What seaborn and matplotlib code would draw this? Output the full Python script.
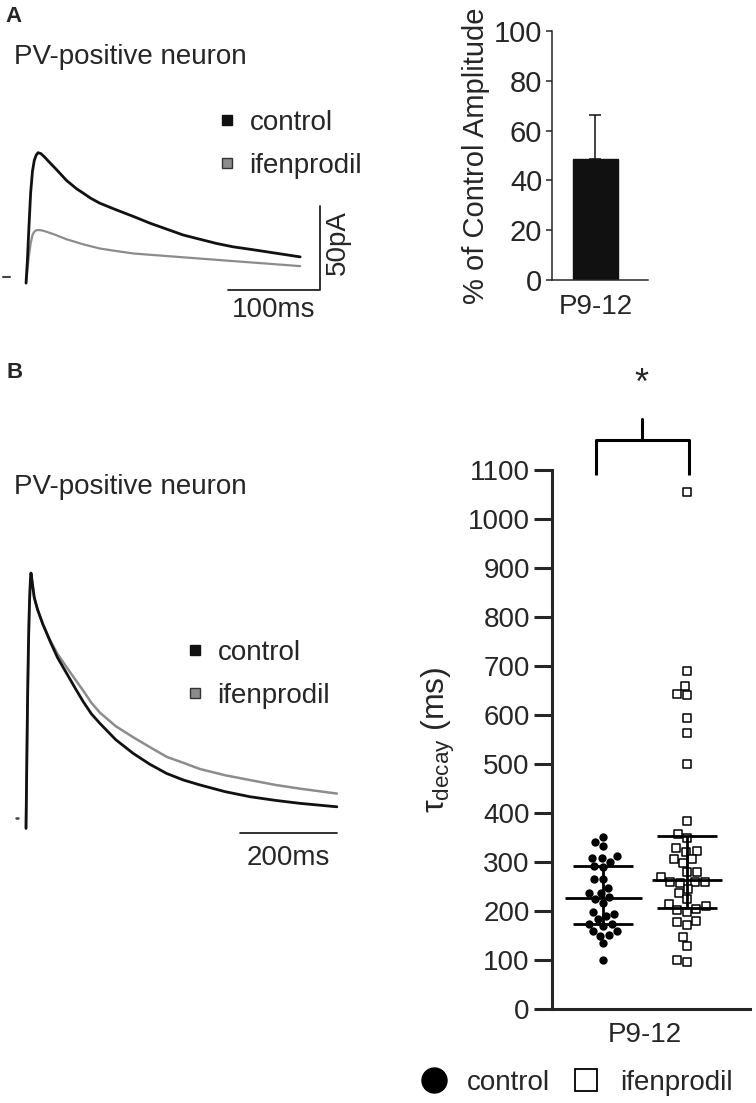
import numpy as np
import pandas as pd
import seaborn as sns
import matplotlib.pyplot as plt
from matplotlib.lines import Line2D

# ---- data ----
# panel A: example EPSC traces (time in ms, current in pA)
a_ctrl_t = [0, 1.5, 3, 5, 7, 9, 11, 13, 16, 20, 26, 33, 44, 55, 62, 70, 80, 98, 117, 135,
            153, 171, 189, 207, 225, 244, 262, 280, 298]
a_ctrl_i = [-3.6, 10, 28, 50, 63, 69.5, 72.5, 74, 73.5, 71.5, 68, 64, 57.5, 52.5, 50, 47, 44,
            40, 36, 32, 28.5, 25, 22.5, 20, 18, 16.5, 15, 13.5, 12]
a_ifen_t = [0, 1.5, 3, 5, 7, 9, 11, 13, 17, 22, 30, 44, 62, 80, 98, 117, 153, 189, 225, 262, 298]
a_ifen_i = [-3.6, 4, 12, 20, 25, 27, 27.8, 28, 27.8, 27, 25.5, 22.5, 19.5, 17, 15.5, 14, 12.5,
            11, 9.5, 8, 6.5]
a_base_t = [-25, -17]
a_base_i = [0, 0]

# panel A: bar (% of control amplitude)
bar_group = ['P9-12']
bar_value = [48.6]
bar_err = [17.7]

# panel B: normalized traces (time in ms, normalized amplitude)
b_ctrl_t = [0, 1.5, 3, 5, 7, 9, 10.3, 13, 17, 24, 35, 50, 65, 84, 100, 118, 135, 152.6, 185,
            221, 255, 290, 325, 359, 410, 462, 515, 565, 641]
b_ctrl_a = [-0.042, 0.2, 0.45, 0.7, 0.87, 0.97, 1.0, 0.96, 0.9, 0.85, 0.79, 0.72, 0.655, 0.59,
            0.535, 0.475, 0.425, 0.386, 0.32, 0.264, 0.22, 0.182, 0.155, 0.135, 0.108, 0.087,
            0.072, 0.06, 0.046]
b_ifen_t = [0, 1.5, 3, 5, 7, 9, 10.3, 13, 17, 24, 35, 50, 65, 84, 100, 118, 135, 152.6, 185,
            221, 255, 290, 325, 359, 410, 462, 515, 565, 641]
b_ifen_a = [-0.042, 0.2, 0.45, 0.7, 0.87, 0.97, 1.0, 0.96, 0.9, 0.85, 0.79, 0.725, 0.67, 0.615,
            0.57, 0.52, 0.47, 0.43, 0.375, 0.33, 0.29, 0.25, 0.225, 0.2, 0.175, 0.155, 0.135,
            0.12, 0.1]
b_base_t = [-21, -16]
b_base_a = [0, 0]

# panel B: tau decay (ms) per cell
control_tau = [352, 341, 333, 312, 308, 308, 301, 292, 290, 266, 266, 247, 236, 236, 229,
               224, 217, 197, 193, 190, 183, 174, 170, 174, 160, 159, 152, 150, 134, 100]
ifen_tau = [1056, 690, 659, 643, 640, 593, 563, 501, 383, 357, 348, 328, 323, 321, 306, 306,
            297, 279, 279, 269, 259, 259, 257, 259, 245, 236, 224, 214, 210, 205, 203, 197,
            179, 177, 172, 147, 129, 100, 95]
groups = ['control', 'ifenprodil']
medians = [226, 264]
quart_lo = [174, 206]
quart_hi = [292, 354]

# ---- figure ----
sns.set_style('ticks')
plt.rcParams['font.family'] = ['Liberation Sans', 'DejaVu Sans']
plt.rcParams['mathtext.fontset'] = 'custom'
plt.rcParams['mathtext.rm'] = 'Liberation Sans'
plt.rcParams['mathtext.it'] = 'Liberation Sans:italic'

W, H = 756, 1103
fig = plt.figure(figsize=(W / 100, H / 100), dpi=100)
FS = 20


def px_axes(x0, y0, x1, y1):
    return fig.add_axes([x0 / W, 1 - y1 / H, (x1 - x0) / W, (y1 - y0) / H])


ctrl_col = '#111111'
ifen_col = '#8c8c8c'

# ---- A: traces ----
ax = px_axes(0, 120, 380, 330)
sns.lineplot(x=a_base_t, y=a_base_i, color='#444444', lw=1.5, ax=ax, estimator=None, sort=False)
sns.lineplot(x=a_ifen_t, y=a_ifen_i, color=ifen_col, lw=1.6, ax=ax, estimator=None, sort=False)
sns.lineplot(x=a_ctrl_t, y=a_ctrl_i, color=ctrl_col, lw=2.0, ax=ax, estimator=None, sort=False)
ax.plot([219.6, 319.6, 319.6], [-7.7, -7.7, 42.3], color='#222222', lw=1.3)
ax.text(269.6, -19.6, '100ms', ha='center', va='center', fontsize=FS)
ax.text(339, 20.8, '50pA', ha='center', va='center', rotation=90, fontsize=FS)
ax.set_xlim(-28.3, 384.8)
ax.set_ylim(-31.5, 93.45)
ax.axis('off')

handles = [Line2D([], [], marker='s', ls='none', mfc=ctrl_col, mec=ctrl_col, ms=6.5),
           Line2D([], [], marker='s', ls='none', mfc=ifen_col, mec='#333333', ms=6.5)]
fig.legend(handles, groups, loc='upper left', bbox_to_anchor=(219 / W, 1 - 110 / H),
           frameon=False, fontsize=FS, handlelength=0.6, handletextpad=0.5,
           labelspacing=0.6, borderpad=0, borderaxespad=0)

fig.text(5 / W, 1 - 17 / H, 'A', fontsize=16, fontweight='bold', va='center')
fig.text(14 / W, 1 - 57 / H, 'PV-positive neuron', fontsize=FS, va='center')

# ---- A: bar ----
ax = px_axes(552, 31, 648, 280)
sns.barplot(x=bar_group, y=bar_value, color=ctrl_col, width=0.5, errorbar=None, ax=ax,
            edgecolor=ctrl_col)
ax.errorbar([0], bar_value, yerr=[[0], bar_err], fmt='none', ecolor=ctrl_col,
            elinewidth=1.1, capsize=4.3, capthick=1.1)
ax.set_xlim(-0.483, 0.583)
ax.set_ylim(0, 100)
ax.set_yticks(range(0, 101, 20))
ax.set_ylabel('% of Control Amplitude', fontsize=21, labelpad=3)
ax.tick_params(axis='y', labelsize=21, length=4, width=1.1, pad=3)
ax.tick_params(axis='x', labelsize=FS, length=0, pad=10)
for s in ['left', 'bottom']:
    ax.spines[s].set_linewidth(1.1)
sns.despine(ax=ax)

# ---- B: traces ----
ax = px_axes(0, 540, 380, 870)
sns.lineplot(x=b_base_t, y=b_base_a, color='#444444', lw=1.8, ax=ax, estimator=None, sort=False)
sns.lineplot(x=b_ifen_t, y=b_ifen_a, color=ifen_col, lw=1.8, ax=ax, estimator=None, sort=False)
sns.lineplot(x=b_ctrl_t, y=b_ctrl_a, color=ctrl_col, lw=2.0, ax=ax, estimator=None, sort=False)
ax.plot([441, 641], [-0.061, -0.061], color='#222222', lw=1.3)
ax.text(540, -0.163, '200ms', ha='center', va='center', fontsize=FS)
ax.set_xlim(-53.6, 729.9)
ax.set_ylim(-0.212, 1.135)
ax.axis('off')

fig.legend(handles, groups, loc='upper left', bbox_to_anchor=(187 / W, 1 - 640 / H),
           frameon=False, fontsize=FS, handlelength=0.6, handletextpad=0.5,
           labelspacing=0.6, borderpad=0, borderaxespad=0)

fig.text(7 / W, 1 - 372 / H, 'B', fontsize=16, fontweight='bold', va='center')
fig.text(14 / W, 1 - 487 / H, 'PV-positive neuron', fontsize=FS, va='center')

# ---- B: tau decay scatter ----
df = pd.DataFrame({'group': ['control'] * len(control_tau) + ['ifenprodil'] * len(ifen_tau),
                   'tau': control_tau + ifen_tau})
ax = px_axes(552, 470, 750, 1009)
sns.swarmplot(data=df[df.group == 'control'], x='group', y='tau', order=groups,
              color='black', marker='o', size=6.0, ax=ax)
sns.swarmplot(data=df[df.group == 'ifenprodil'], x='group', y='tau', order=groups,
              color='white', edgecolor='black', linewidth=1.1, marker='s', size=5.8, ax=ax)
for i in range(2):
    hw_m = 0.46 if i == 0 else 0.42
    ax.hlines(medians[i], i - hw_m, i + hw_m, color='black', lw=2.0, zorder=5)
    ax.hlines([quart_lo[i], quart_hi[i]], i - 0.36, i + 0.36, color='black', lw=2.0, zorder=5)
    ax.vlines(i, quart_lo[i], quart_hi[i], color='black', lw=2.0, zorder=5)

# significance bracket
ax.plot([-0.08, -0.08, 1.02, 1.02], [1090, 1161, 1161, 1090], color='black', lw=2.2,
        clip_on=False, solid_capstyle='butt')
ax.plot([0.46, 0.46], [1161, 1204], color='black', lw=2.2, clip_on=False)
ax.text(0.46, 1275, '*', ha='center', va='center', fontsize=26)

ax.set_xlim(-0.61, 1.75)
ax.set_ylim(0, 1100)
ax.set_yticks(range(0, 1101, 100))
ax.set_xticks([0.5])
ax.set_xticklabels(['P9-12'])
ax.set_xlabel('')
ax.set_ylabel(r'$\mathrm{τ}_{\mathrm{decay}}$ (ms)', fontsize=23, labelpad=8)
ax.tick_params(axis='y', labelsize=FS, length=13, width=2.2, pad=3)
ax.tick_params(axis='x', labelsize=FS, length=0, pad=9)
for s in ['left', 'bottom']:
    ax.spines[s].set_linewidth(2.2)
sns.despine(ax=ax)

leg_handles = [Line2D([], [], marker='o', ls='none', mfc='black', mec='black', ms=18),
               Line2D([], [], marker='s', ls='none', mfc='white', mec='black', mew=1.3, ms=16)]
fig.legend(leg_handles, groups, loc='center left', bbox_to_anchor=(420 / W, 1 - 1083 / H),
           ncol=2, frameon=False, fontsize=FS, handlelength=1.0, handletextpad=0.7,
           columnspacing=0.8, borderpad=0, borderaxespad=0)

fig.savefig('out.png', dpi=100)
